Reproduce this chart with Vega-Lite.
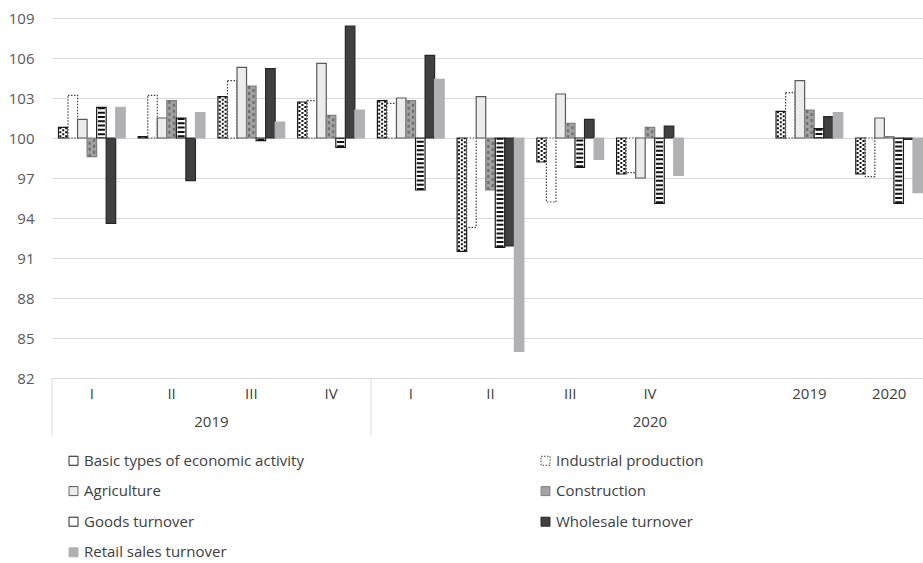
{
  "$schema": "https://vega.github.io/schema/vega-lite/v6.json",
  "width": 871,
  "height": 360,
  "autosize": {"type": "none"},
  "padding": {"left": 52, "top": 18, "right": 0, "bottom": 185},
  "background": "white",
  "config": {
    "font": "Open Sans",
    "view": {"stroke": null},
    "legend": {
      "orient": "none",
      "direction": "horizontal",
      "legendX": 14,
      "legendY": 435,
      "columns": 2,
      "columnPadding": 234,
      "rowPadding": 14.6,
      "symbolType": "square",
      "symbolSize": 81,
      "symbolStrokeWidth": 1,
      "labelFont": "Open Sans",
      "labelFontSize": 15,
      "labelColor": "#404040",
      "labelOffset": 3,
      "labelLimit": 400
    }
  },
  "resolve": {"axis": {"x": "independent", "y": "independent"}, "scale": {"xOffset": "independent"}},
  "datasets": {
    "main": [
      {"cat": "2019 I", "series": "Basic types of economic activity", "value": 100.8},
      {"cat": "2019 I", "series": "Industrial production", "value": 103.2},
      {"cat": "2019 I", "series": "Agriculture", "value": 101.4},
      {"cat": "2019 I", "series": "Construction", "value": 98.6},
      {"cat": "2019 I", "series": "Goods turnover", "value": 102.3},
      {"cat": "2019 I", "series": "Wholesale turnover", "value": 93.6},
      {"cat": "2019 I", "series": "Retail sales turnover", "value": 102.3},
      {"cat": "2019 II", "series": "Basic types of economic activity", "value": 100.1},
      {"cat": "2019 II", "series": "Industrial production", "value": 103.2},
      {"cat": "2019 II", "series": "Agriculture", "value": 101.5},
      {"cat": "2019 II", "series": "Construction", "value": 102.8},
      {"cat": "2019 II", "series": "Goods turnover", "value": 101.5},
      {"cat": "2019 II", "series": "Wholesale turnover", "value": 96.8},
      {"cat": "2019 II", "series": "Retail sales turnover", "value": 101.9},
      {"cat": "2019 III", "series": "Basic types of economic activity", "value": 103.1},
      {"cat": "2019 III", "series": "Industrial production", "value": 104.3},
      {"cat": "2019 III", "series": "Agriculture", "value": 105.3},
      {"cat": "2019 III", "series": "Construction", "value": 103.9},
      {"cat": "2019 III", "series": "Goods turnover", "value": 99.8},
      {"cat": "2019 III", "series": "Wholesale turnover", "value": 105.2},
      {"cat": "2019 III", "series": "Retail sales turnover", "value": 101.2},
      {"cat": "2019 IV", "series": "Basic types of economic activity", "value": 102.7},
      {"cat": "2019 IV", "series": "Industrial production", "value": 102.8},
      {"cat": "2019 IV", "series": "Agriculture", "value": 105.6},
      {"cat": "2019 IV", "series": "Construction", "value": 101.7},
      {"cat": "2019 IV", "series": "Goods turnover", "value": 99.3},
      {"cat": "2019 IV", "series": "Wholesale turnover", "value": 108.4},
      {"cat": "2019 IV", "series": "Retail sales turnover", "value": 102.1},
      {"cat": "2020 I", "series": "Basic types of economic activity", "value": 102.8},
      {"cat": "2020 I", "series": "Industrial production", "value": 102.6},
      {"cat": "2020 I", "series": "Agriculture", "value": 103.0},
      {"cat": "2020 I", "series": "Construction", "value": 102.8},
      {"cat": "2020 I", "series": "Goods turnover", "value": 96.1},
      {"cat": "2020 I", "series": "Wholesale turnover", "value": 106.2},
      {"cat": "2020 I", "series": "Retail sales turnover", "value": 104.4},
      {"cat": "2020 II", "series": "Basic types of economic activity", "value": 91.5},
      {"cat": "2020 II", "series": "Industrial production", "value": 93.3},
      {"cat": "2020 II", "series": "Agriculture", "value": 103.1},
      {"cat": "2020 II", "series": "Construction", "value": 96.1},
      {"cat": "2020 II", "series": "Goods turnover", "value": 91.8},
      {"cat": "2020 II", "series": "Wholesale turnover", "value": 91.9},
      {"cat": "2020 II", "series": "Retail sales turnover", "value": 84.0},
      {"cat": "2020 III", "series": "Basic types of economic activity", "value": 98.2},
      {"cat": "2020 III", "series": "Industrial production", "value": 95.2},
      {"cat": "2020 III", "series": "Agriculture", "value": 103.3},
      {"cat": "2020 III", "series": "Construction", "value": 101.1},
      {"cat": "2020 III", "series": "Goods turnover", "value": 97.8},
      {"cat": "2020 III", "series": "Wholesale turnover", "value": 101.4},
      {"cat": "2020 III", "series": "Retail sales turnover", "value": 98.4},
      {"cat": "2020 IV", "series": "Basic types of economic activity", "value": 97.3},
      {"cat": "2020 IV", "series": "Industrial production", "value": 97.4},
      {"cat": "2020 IV", "series": "Agriculture", "value": 97.0},
      {"cat": "2020 IV", "series": "Construction", "value": 100.8},
      {"cat": "2020 IV", "series": "Goods turnover", "value": 95.1},
      {"cat": "2020 IV", "series": "Wholesale turnover", "value": 100.9},
      {"cat": "2020 IV", "series": "Retail sales turnover", "value": 97.2},
      {"cat": "2019", "series": "Basic types of economic activity", "value": 102.0},
      {"cat": "2019", "series": "Industrial production", "value": 103.4},
      {"cat": "2019", "series": "Agriculture", "value": 104.3},
      {"cat": "2019", "series": "Construction", "value": 102.1},
      {"cat": "2019", "series": "Goods turnover", "value": 100.7},
      {"cat": "2019", "series": "Wholesale turnover", "value": 101.6},
      {"cat": "2019", "series": "Retail sales turnover", "value": 101.9},
      {"cat": "2020", "series": "Basic types of economic activity", "value": 97.3},
      {"cat": "2020", "series": "Industrial production", "value": 97.1},
      {"cat": "2020", "series": "Agriculture", "value": 101.5},
      {"cat": "2020", "series": "Construction", "value": 100.1},
      {"cat": "2020", "series": "Goods turnover", "value": 95.1},
      {"cat": "2020", "series": "Wholesale turnover", "value": 99.9},
      {"cat": "2020", "series": "Retail sales turnover", "value": 95.9}
    ],
    "seps": [{"cat": "2019 I"}, {"cat": "2020 I"}],
    "grp2019": [{"cat": "2019 II", "label": "2019"}],
    "grp2020": [{"cat": "2020 IV", "label": "2020"}]
  },
  "layer": [
    {
      "data": {"name": "main"},
      "mark": {"type": "bar", "strokeWidth": 1.2},
      "encoding": {
        "x": {"field": "cat", "type": "nominal",
          "scale": {"domain": ["2019 I","2019 II","2019 III","2019 IV","2020 I","2020 II","2020 III","2020 IV","gap","2019","2020"], "range": [0, 877], "paddingInner": 0, "paddingOuter": 0},
          "axis": {"title": null, "ticks": false, "grid": false, "domainColor": "#d9d9d9", "domainWidth": 1, "labelExpr": "datum.value === 'gap' ? '' : peek(split(datum.value, ' '))", "labelFont": "Open Sans", "labelFontSize": 15, "labelColor": "#404040", "labelPadding": 8, "labelAngle": 0}},
        "xOffset": {"field": "series", "type": "nominal",
          "scale": {"domain": ["Basic types of economic activity","Industrial production","Agriculture","Construction","Goods turnover","Wholesale turnover","Retail sales turnover"], "paddingInner": 0, "paddingOuter": 0.68}},
        "y": {"field": "value", "type": "quantitative",
          "scale": {"domain": [82, 109], "nice": false, "zero": false},
          "axis": {"title": null, "values": [82,85,88,91,94,97,100,103,106,109], "grid": true, "gridColor": "#d9d9d9", "gridWidth": 1, "domain": false, "ticks": false, "labelFont": "Open Sans", "labelFontSize": 15, "labelColor": "#595959", "labelPadding": 18}},
        "y2": {"datum": 100},
        "fill": {"field": "series", "type": "nominal", "title": null,
          "scale": {"domain": ["Basic types of economic activity","Industrial production","Agriculture","Construction","Goods turnover","Wholesale turnover","Retail sales turnover"],
                    "range": ["#ffffff","#ffffff","#ececec","#a3a3a3","#ffffff","#404040","#b1b1b4"]}},
        "stroke": {"field": "series", "type": "nominal", "title": null,
          "scale": {"domain": ["Basic types of economic activity","Industrial production","Agriculture","Construction","Goods turnover","Wholesale turnover","Retail sales turnover"],
                    "range": ["#1a1a1a","#404040","#595959","#808080","#1a1a1a","#262626","#b1b1b4"]}},
        "strokeDash": {"field": "series", "type": "nominal", "title": null,
          "scale": {"domain": ["Basic types of economic activity","Industrial production","Agriculture","Construction","Goods turnover","Wholesale turnover","Retail sales turnover"],
                    "range": [[1,0],[1.5,1.5],[1,0],[1,0],[1,0],[1,0],[1,0]]}}
      }
    },
    {
      "data": {"name": "main"},
      "transform": [{"filter": "datum.series === 'Goods turnover'"}],
      "mark": {"type": "rule", "strokeWidth": 7, "strokeDash": [2, 2.3], "color": "#111111"},
      "encoding": {
        "x": {"field": "cat", "type": "nominal", "axis": null,
          "scale": {"domain": ["2019 I","2019 II","2019 III","2019 IV","2020 I","2020 II","2020 III","2020 IV","gap","2019","2020"], "range": [0, 877], "paddingInner": 0, "paddingOuter": 0}},
        "xOffset": {"field": "series", "type": "nominal",
          "scale": {"domain": ["Basic types of economic activity","Industrial production","Agriculture","Construction","Goods turnover","Wholesale turnover","Retail sales turnover"], "paddingInner": 0, "paddingOuter": 0.68}},
        "y": {"field": "value", "type": "quantitative", "axis": null, "scale": {"domain": [82, 109], "nice": false, "zero": false}},
        "y2": {"datum": 100}
      }
    },
    {
      "data": {"name": "main"},
      "transform": [{"filter": "datum.series === 'Construction'"}],
      "mark": {"type": "rule", "strokeWidth": 2.2, "strokeDash": [3, 3], "color": "#6e6e6e"},
      "encoding": {
        "x": {"field": "cat", "type": "nominal", "axis": null,
          "scale": {"domain": ["2019 I","2019 II","2019 III","2019 IV","2020 I","2020 II","2020 III","2020 IV","gap","2019","2020"], "range": [0, 877], "paddingInner": 0, "paddingOuter": 0}},
        "xOffset": {"field": "series", "type": "nominal",
          "scale": {"domain": ["Basic types of economic activity","Industrial production","Agriculture","Construction","Goods turnover","Wholesale turnover","Retail sales turnover"], "paddingInner": 0, "paddingOuter": 0.68, "range": [-2.2, 77.53]}},
        "y": {"field": "value", "type": "quantitative", "axis": null, "scale": {"domain": [82, 109], "nice": false, "zero": false}},
        "y2": {"datum": 100}
      }
    },
    {
      "data": {"name": "main"},
      "transform": [{"filter": "datum.series === 'Construction'"}],
      "mark": {"type": "rule", "strokeWidth": 2.2, "strokeDash": [3, 3], "strokeDashOffset": 3, "color": "#6e6e6e"},
      "encoding": {
        "x": {"field": "cat", "type": "nominal", "axis": null,
          "scale": {"domain": ["2019 I","2019 II","2019 III","2019 IV","2020 I","2020 II","2020 III","2020 IV","gap","2019","2020"], "range": [0, 877], "paddingInner": 0, "paddingOuter": 0}},
        "xOffset": {"field": "series", "type": "nominal",
          "scale": {"domain": ["Basic types of economic activity","Industrial production","Agriculture","Construction","Goods turnover","Wholesale turnover","Retail sales turnover"], "paddingInner": 0, "paddingOuter": 0.68, "range": [2.2, 81.93]}},
        "y": {"field": "value", "type": "quantitative", "axis": null, "scale": {"domain": [82, 109], "nice": false, "zero": false}},
        "y2": {"datum": 100}
      }
    },
    {
      "data": {"name": "main"},
      "transform": [{"filter": "datum.series === 'Basic types of economic activity'"}],
      "mark": {"type": "rule", "strokeWidth": 2, "strokeDash": [2, 2], "color": "#111111"},
      "encoding": {
        "x": {"field": "cat", "type": "nominal", "axis": null,
          "scale": {"domain": ["2019 I","2019 II","2019 III","2019 IV","2020 I","2020 II","2020 III","2020 IV","gap","2019","2020"], "range": [0, 877], "paddingInner": 0, "paddingOuter": 0}},
        "xOffset": {"field": "series", "type": "nominal",
          "scale": {"domain": ["Basic types of economic activity","Industrial production","Agriculture","Construction","Goods turnover","Wholesale turnover","Retail sales turnover"], "paddingInner": 0, "paddingOuter": 0.68, "range": [-2.9, 76.83]}},
        "y": {"field": "value", "type": "quantitative", "axis": null, "scale": {"domain": [82, 109], "nice": false, "zero": false}},
        "y2": {"datum": 100}
      }
    },
    {
      "data": {"name": "main"},
      "transform": [{"filter": "datum.series === 'Basic types of economic activity'"}],
      "mark": {"type": "rule", "strokeWidth": 2, "strokeDash": [2, 2], "strokeDashOffset": 2, "color": "#111111"},
      "encoding": {
        "x": {"field": "cat", "type": "nominal", "axis": null,
          "scale": {"domain": ["2019 I","2019 II","2019 III","2019 IV","2020 I","2020 II","2020 III","2020 IV","gap","2019","2020"], "range": [0, 877], "paddingInner": 0, "paddingOuter": 0}},
        "xOffset": {"field": "series", "type": "nominal",
          "scale": {"domain": ["Basic types of economic activity","Industrial production","Agriculture","Construction","Goods turnover","Wholesale turnover","Retail sales turnover"], "paddingInner": 0, "paddingOuter": 0.68, "range": [0, 79.73]}},
        "y": {"field": "value", "type": "quantitative", "axis": null, "scale": {"domain": [82, 109], "nice": false, "zero": false}},
        "y2": {"datum": 100}
      }
    },
    {
      "data": {"name": "main"},
      "transform": [{"filter": "datum.series === 'Basic types of economic activity'"}],
      "mark": {"type": "rule", "strokeWidth": 2, "strokeDash": [2, 2], "color": "#111111"},
      "encoding": {
        "x": {"field": "cat", "type": "nominal", "axis": null,
          "scale": {"domain": ["2019 I","2019 II","2019 III","2019 IV","2020 I","2020 II","2020 III","2020 IV","gap","2019","2020"], "range": [0, 877], "paddingInner": 0, "paddingOuter": 0}},
        "xOffset": {"field": "series", "type": "nominal",
          "scale": {"domain": ["Basic types of economic activity","Industrial production","Agriculture","Construction","Goods turnover","Wholesale turnover","Retail sales turnover"], "paddingInner": 0, "paddingOuter": 0.68, "range": [2.9, 82.63]}},
        "y": {"field": "value", "type": "quantitative", "axis": null, "scale": {"domain": [82, 109], "nice": false, "zero": false}},
        "y2": {"datum": 100}
      }
    },
    {
      "data": {"name": "seps"},
      "mark": {"type": "rule", "color": "#d9d9d9", "strokeWidth": 1},
      "encoding": {
        "x": {"field": "cat", "type": "nominal", "axis": null, "bandPosition": 0,
          "scale": {"domain": ["2019 I","2019 II","2019 III","2019 IV","2020 I","2020 II","2020 III","2020 IV","gap","2019","2020"], "range": [0, 877], "paddingInner": 0, "paddingOuter": 0}},
        "y": {"datum": 82, "type": "quantitative", "axis": null, "scale": {"domain": [82, 109], "nice": false, "zero": false}},
        "y2": {"datum": 77.7}
      }
    },
    {
      "data": {"name": "grp2019"},
      "mark": {"type": "text", "font": "Open Sans", "fontSize": 15, "color": "#404040", "baseline": "middle", "align": "center"},
      "encoding": {
        "x": {"field": "cat", "type": "nominal", "axis": null, "bandPosition": 1,
          "scale": {"domain": ["2019 I","2019 II","2019 III","2019 IV","2020 I","2020 II","2020 III","2020 IV","gap","2019","2020"], "range": [0, 877], "paddingInner": 0, "paddingOuter": 0}},
        "y": {"datum": 78.7, "type": "quantitative", "axis": null, "scale": {"domain": [82, 109], "nice": false, "zero": false}},
        "text": {"field": "label"}
      }
    },
    {
      "data": {"name": "grp2020"},
      "mark": {"type": "text", "font": "Open Sans", "fontSize": 15, "color": "#404040", "baseline": "middle", "align": "center"},
      "encoding": {
        "x": {"field": "cat", "type": "nominal", "axis": null, "bandPosition": 0.5,
          "scale": {"domain": ["2019 I","2019 II","2019 III","2019 IV","2020 I","2020 II","2020 III","2020 IV","gap","2019","2020"], "range": [0, 877], "paddingInner": 0, "paddingOuter": 0}},
        "y": {"datum": 78.7, "type": "quantitative", "axis": null, "scale": {"domain": [82, 109], "nice": false, "zero": false}},
        "text": {"field": "label"}
      }
    }
  ]
}
